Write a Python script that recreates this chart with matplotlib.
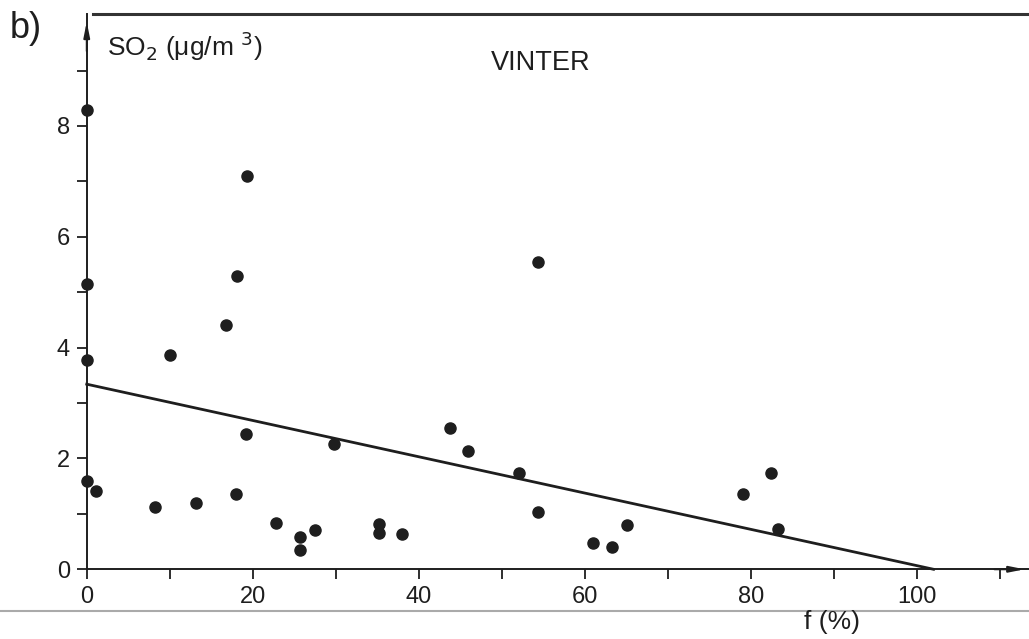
import numpy as np
import matplotlib
matplotlib.use('Agg')
import matplotlib.pyplot as plt
from matplotlib.lines import Line2D

plt.rcParams['font.family'] = ['Liberation Sans', 'DejaVu Sans']

# andel f (%) och SO2-halt, vinter
f_pct = [0, 0, 0, 0, 1.1, 8.2, 10.0, 13.2, 16.8, 18.0, 18.1, 19.2, 19.3,
         22.8, 25.7, 25.7, 27.5, 29.8, 35.2, 35.2, 38.0, 43.7, 45.9, 52.1,
         54.3, 54.3, 61.0, 63.3, 65.1, 79.1, 82.4, 83.3]
so2 = [8.29, 5.15, 3.78, 1.60, 1.42, 1.13, 3.87, 1.20, 4.40, 1.35, 5.30, 2.44,
       7.10, 0.84, 0.59, 0.35, 0.71, 2.26, 0.82, 0.66, 0.63, 2.55, 2.13, 1.73,
       5.54, 1.03, 0.47, 0.40, 0.80, 1.35, 1.73, 0.72]

# regressionslinje
fit_x = [0, 102]
fit_y = [3.34, 0.0]

xticks = np.arange(0, 111, 10)
yticks = np.arange(0, 10, 1)

ink = '#1e1e1e'

fig = plt.figure(figsize=(10.29, 6.39), dpi=100)
ax = fig.add_axes([0.0843, 0.1091, 0.9157, 0.869])
ax.set_xlim(0, 113.5)
ax.set_ylim(0, 10.02)

ax.plot(fit_x, fit_y, color=ink, lw=2.0, clip_on=False)
ax.plot(f_pct, so2, 'o', color=ink, ms=8, clip_on=False, zorder=5)

for s in ['top', 'right']:
    ax.spines[s].set_visible(False)
for s in ['left', 'bottom']:
    ax.spines[s].set_color(ink)
    ax.spines[s].set_linewidth(1.4)

ax.set_xticks(xticks)
ax.set_xticklabels([str(v) if v % 20 == 0 else '' for v in xticks])
ax.set_yticks(yticks)
ax.set_yticklabels([str(v) if v % 2 == 0 else '' for v in yticks])
ax.tick_params(direction='out', length=7, width=1.3, color=ink,
               labelsize=17, labelcolor=ink, pad=5)

# pilar på axlarna
ax.annotate('', xy=(0, 9.93), xytext=(0, 9.3),
            arrowprops=dict(arrowstyle='-|>,head_length=0.9,head_width=0.18',
                            color=ink, lw=1.4), annotation_clip=False)
ax.annotate('', xy=(113.3, 0), xytext=(109, 0),
            arrowprops=dict(arrowstyle='-|>,head_length=0.9,head_width=0.18',
                            color=ink, lw=1.4), annotation_clip=False)

# ram upptill
ax.plot([0.007, 1], [1, 1], transform=ax.transAxes, color='#333333',
        lw=2.2, clip_on=False)

ax.text(0.022, 0.972, 'SO$_2$ ($\\mathregular{\\mu}$g/m $^3$)', transform=ax.transAxes,
        fontsize=19, color=ink, va='top', ha='left')
ax.text(0.482, 0.912, 'VINTER', transform=ax.transAxes, fontsize=19.5,
        color=ink, ha='center', va='center')
fig.text(0.009, 0.955, 'b)', fontsize=26, color=ink, ha='left', va='center')
fig.text(0.809, 0.027, 'f (%)', fontsize=19, color=ink, ha='center', va='center')

# sidkant nertill
fig.add_artist(Line2D([0, 1], [0.0438, 0.0438], color='#aaaaaa', lw=1.5))

fig.savefig('out.png', dpi=100)
